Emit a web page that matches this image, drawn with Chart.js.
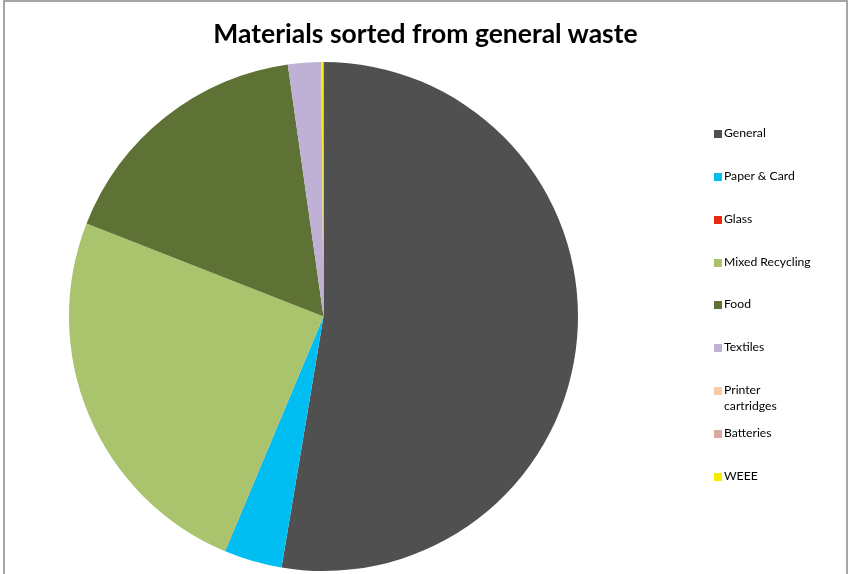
<!DOCTYPE html>
<html>
<head>
<meta charset="utf-8">
<script src="https://cdn.jsdelivr.net/npm/chart.js@4"></script>
<style>
  body { margin: 0; background: #fff; }
  #wrap { position: relative; width: 849px; height: 574px; overflow: hidden; }
  #frame { position: absolute; left: 3px; top: 0; width: 845px; height: 600px; border: 2px solid #a6a6a6; box-sizing: border-box; }
  #title { position: absolute; left: 0; width: 851px; top: 17px; text-align: center;
           font-family: Lato, sans-serif; font-weight: bold; font-size: 26.5px; color: #000; }
  #legend { position: absolute; left: 714px; top: 0; font-family: Lato, sans-serif; font-size: 12.2px; color: #000; }
  .item { position: absolute; left: 0; width: 110px; }
  .box { position: absolute; left: 0; top: 5px; width: 8px; height: 8px; }
  .lbl { position: absolute; left: 10px; top: 0; line-height: 16px; white-space: nowrap; }
  canvas { position: absolute; left: 0; top: 0; }
</style>
</head>
<body>
<div id="wrap">
  <div id="frame"></div>
  <canvas id="pieChart" width="849" height="574"></canvas>
  <div id="title">Materials sorted from general waste</div>
  <div id="legend"></div>
</div>
<script>
const categories = ["General", "Paper & Card", "Glass", "Mixed Recycling", "Food", "Textiles", "Printer cartridges", "Batteries", "WEEE"];
const shares = [52.6, 3.67, 0.02, 24.6, 16.8, 2.1, 0.01, 0.01, 0.12];
const colors = ["#505050", "#00BEF2", "#E52A10", "#A9C46C", "#5F7236", "#BFB1D5", "#FBCBA3", "#DBA7A3", "#F7EC00"];

// legend rows (y offset of first text line)
const legendTops = [125, 168, 211, 254, 296, 339, 382, 425, 468];

function renderLegend() {
  const legend = document.getElementById("legend");
  legend.innerHTML = categories
    .map((c, i) => {
      const text = c === "Printer cartridges" ? "Printer<br>cartridges" : c;
      return `<div class="item" style="top:${legendTops[i]}px"><div class="box" style="background:${colors[i]}"></div><div class="lbl">${text}</div></div>`;
    })
    .join("");
}

const ctx = document.getElementById("pieChart").getContext("2d");
new Chart(ctx, {
  type: "pie",
  data: {
    labels: categories,
    datasets: [
      {
        data: shares,
        backgroundColor: colors,
        borderWidth: 0
      }
    ]
  },
  options: {
    responsive: false,
    animation: false,
    layout: { padding: { top: 62, bottom: 3, left: 69, right: 271 } },
    plugins: {
      legend: { display: false },
      title: { display: false },
      tooltip: { enabled: false }
    }
  }
});

renderLegend();
</script>
</body>
</html>
